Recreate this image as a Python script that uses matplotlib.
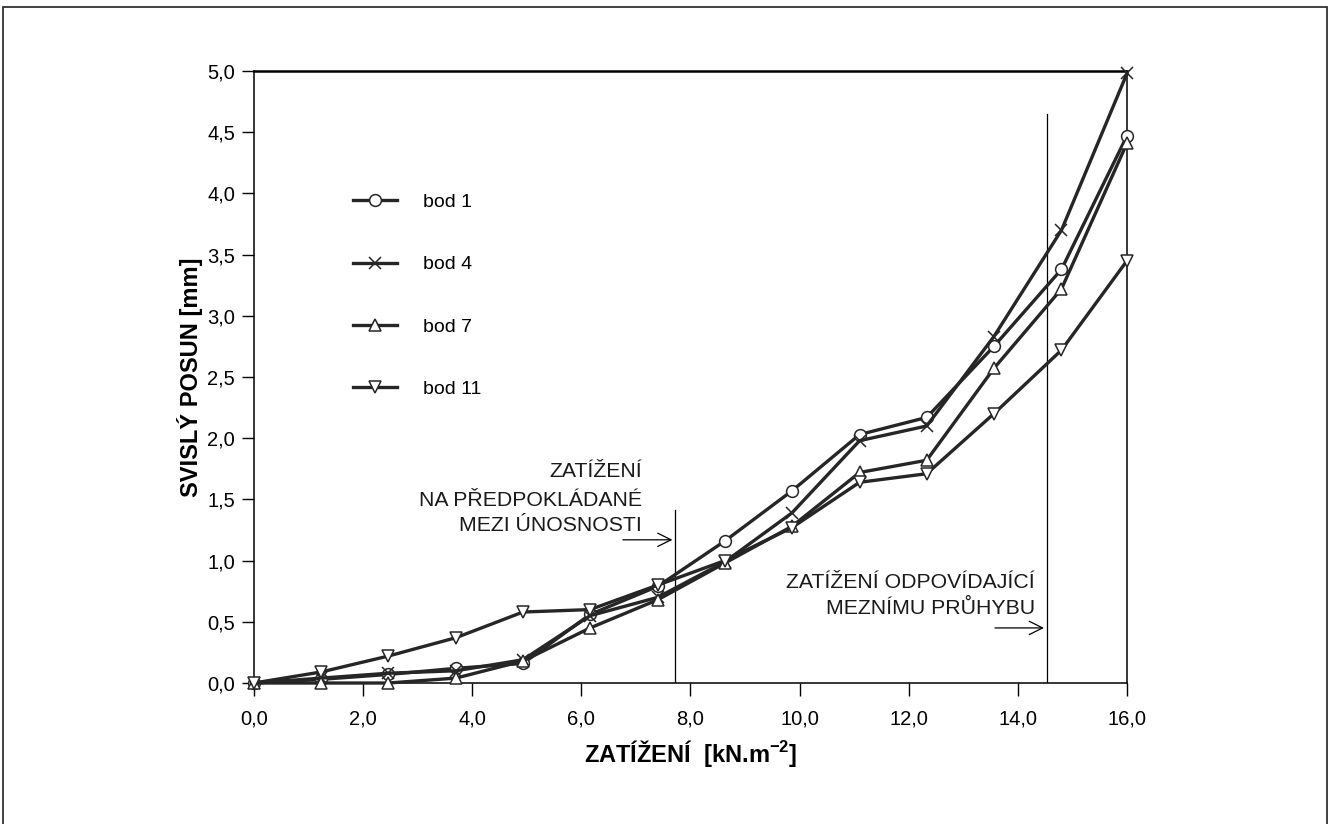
import numpy as np
import matplotlib
matplotlib.use('Agg')
import matplotlib.pyplot as plt
from matplotlib.ticker import FuncFormatter, MultipleLocator
from matplotlib.patches import Rectangle

plt.rcParams['font.family'] = ['Liberation Sans', 'DejaVu Sans']
plt.rcParams['mathtext.fontset'] = 'custom'
plt.rcParams['mathtext.rm'] = 'Liberation Sans:bold'
plt.rcParams['mathtext.default'] = 'rm'

# load steps [kN.m-2] and vertical displacement [mm]
zatizeni = [0.0, 1.23, 2.46, 3.7, 4.93, 6.16, 7.4, 8.63, 9.86, 11.1, 12.33, 13.56, 14.8, 16.0]
bod_1 = [0.0, 0.03, 0.07, 0.12, 0.16, 0.56, 0.79, 1.16, 1.57, 2.03, 2.17, 2.75, 3.38, 4.47]
bod_4 = [0.0, 0.04, 0.08, 0.10, 0.19, 0.55, 0.70, 0.99, 1.39, 1.98, 2.10, 2.83, 3.70, 4.98]
bod_7 = [0.0, 0.0, 0.0, 0.04, 0.18, 0.45, 0.68, 0.98, 1.28, 1.72, 1.82, 2.57, 3.22, 4.41]
bod_11 = [0.0, 0.09, 0.22, 0.37, 0.58, 0.60, 0.80, 1.00, 1.27, 1.64, 1.71, 2.20, 2.72, 3.45]

series = [('bod 1', bod_1, 'o'), ('bod 4', bod_4, 'x'),
          ('bod 7', bod_7, '^'), ('bod 11', bod_11, 'v')]

# load limits marked in the chart
mez_unosnosti = 7.72
mez_pruhybu = 14.53

ink = '#262626'

fig = plt.figure(figsize=(13.34, 8.24), dpi=100)
ax = fig.add_axes([0.1904, 0.1711, 0.6544, 0.7427])

for name, vals, mk in series:
    ax.plot(zatizeni, vals, color=ink, lw=2.4, marker=mk, markersize=8.5,
            markerfacecolor='white', markeredgecolor=ink, markeredgewidth=1.1,
            label=name, clip_on=False, zorder=3)

ax.set_xlim(0, 16)
ax.set_ylim(0, 5)
ax.xaxis.set_major_locator(MultipleLocator(2))
ax.yaxis.set_major_locator(MultipleLocator(0.5))
fmt = FuncFormatter(lambda v, p: f'{v:.1f}'.replace('.', ','))
ax.xaxis.set_major_formatter(fmt)
ax.yaxis.set_major_formatter(fmt)
ax.tick_params(direction='out', length=9, width=1, labelsize=14.5, colors='black')
ax.tick_params(axis='x', pad=10)
ax.tick_params(axis='y', pad=4.5)
for s in ax.spines.values():
    s.set_linewidth(1.1)
ax.spines['top'].set_linewidth(1.8)

ax.set_xlabel(r'ZATÍŽENÍ  [kN.m$^{-2}$]', fontsize=17, fontweight='bold')
ax.set_ylabel('SVISLÝ POSUN [mm]', fontsize=17, fontweight='bold')
ax.xaxis.set_label_coords(0.5, -0.09)
ax.yaxis.set_label_coords(-0.058, 0.5)

# limit lines with arrows and notes
ax.plot([mez_unosnosti, mez_unosnosti], [0, 1.41], color='black', lw=0.9)
ax.plot([mez_pruhybu, mez_pruhybu], [0, 4.65], color='black', lw=0.9)
ax.annotate('', xy=(mez_unosnosti, 1.17), xytext=(6.71, 1.17),
            arrowprops=dict(arrowstyle='->', color='black', lw=0.9, mutation_scale=24))
ax.annotate('', xy=(mez_pruhybu, 0.45), xytext=(13.53, 0.45),
            arrowprops=dict(arrowstyle='->', color='black', lw=0.9, mutation_scale=24))

note_1 = ['ZATÍŽENÍ', 'NA PŘEDPOKLÁDANÉ', 'MEZI ÚNOSNOSTI']
for line, yy in zip(note_1, [1.68, 1.45, 1.24]):
    ax.text(7.11, yy, line, ha='right', va='baseline', fontsize=15.3, color='#1a1a1a')
note_2 = ['ZATÍŽENÍ ODPOVÍDAJÍCÍ', 'MEZNÍMU PRŮHYBU']
for line, yy in zip(note_2, [0.78, 0.56]):
    ax.text(14.31, yy, line, ha='right', va='baseline', fontsize=15.3, color='#1a1a1a')

ax.legend(loc='upper left', bbox_to_anchor=(0.113, 0.80), frameon=False, fontsize=14,
          numpoints=1, handlelength=2.3, handletextpad=1.3, labelspacing=2.3,
          borderpad=0, borderaxespad=0)

# page frame of the scanned figure
fig.patches.append(Rectangle((0.0025, -0.02), 0.9925, 1.0115, transform=fig.transFigure,
                             fill=False, edgecolor='#333333', lw=1.3))

fig.savefig('out.png', dpi=100, facecolor='white')
